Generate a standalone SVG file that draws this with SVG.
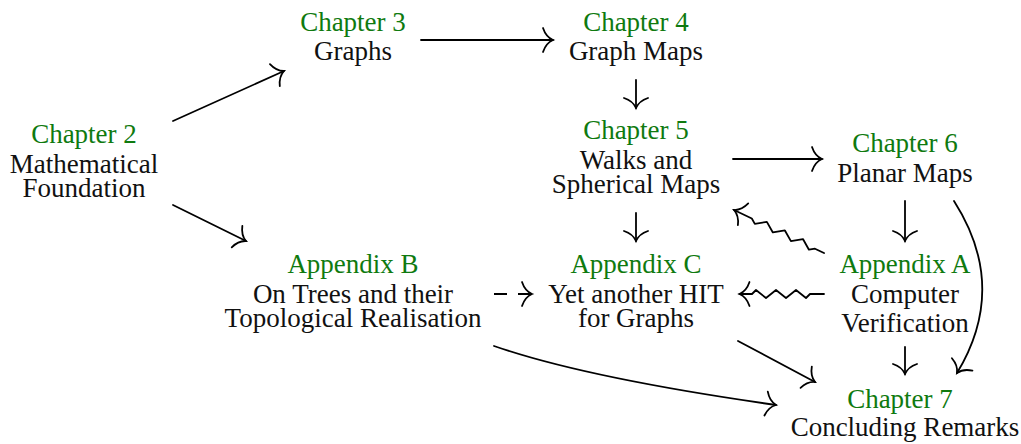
<svg xmlns="http://www.w3.org/2000/svg" width="1021" height="444" viewBox="0 0 1021 444">
<style>
text{font-size:27px;text-anchor:middle;fill:#111}
text.h{fill:#0f7a0f}
.c{fill:none;stroke:#000;stroke-width:1.8;stroke-linecap:round;stroke-linejoin:round}
.d{stroke-dasharray:13 11;stroke-linecap:butt}
</style>
<defs>
<marker id="to" viewBox="-15 -15 30 30" markerWidth="30" markerHeight="30" refX="0" refY="0" orient="auto" markerUnits="userSpaceOnUse" overflow="visible">
<path d="M-10,-12 Q-7,-3 0,0 Q-7,3 -10,12" fill="none" stroke="#000" stroke-width="1.8" stroke-linecap="round"/>
</marker>
</defs>
<rect width="1021" height="444" fill="#fff"/>
<g font-family="'Liberation Serif', 'DejaVu Serif', serif">
<g id="ch2"><text class="h" x="84" y="143">Chapter 2</text><text x="84" y="173">Mathematical</text><text x="84" y="197">Foundation</text></g>
<g id="ch3"><text class="h" x="353" y="31">Chapter 3</text><text x="353" y="60">Graphs</text></g>
<g id="ch4"><text class="h" x="636" y="31">Chapter 4</text><text x="636" y="60">Graph Maps</text></g>
<g id="ch5"><text class="h" x="636" y="139">Chapter 5</text><text x="636" y="169">Walks and</text><text x="636" y="193">Spherical Maps</text></g>
<g id="ch6"><text class="h" x="905" y="152">Chapter 6</text><text x="905" y="182">Planar Maps</text></g>
<g id="appB"><text class="h" x="353" y="273">Appendix B</text><text x="353" y="303">On Trees and their</text><text x="353" y="327">Topological Realisation</text></g>
<g id="appC"><text class="h" x="636" y="273">Appendix C</text><text x="636" y="303">Yet another HIT</text><text x="636" y="327">for Graphs</text></g>
<g id="appA"><text class="h" x="905" y="273">Appendix A</text><text x="905" y="303">Computer</text><text x="905" y="332">Verification</text></g>
<g id="ch7"><text class="h" x="900" y="408">Chapter 7</text><text x="905" y="436">Concluding Remarks</text></g>
</g>
<g id="connectors">
<path class="c" d="M173,121 L284,71" marker-end="url(#to)"/>
<path class="c" d="M173,205 L246,241" marker-end="url(#to)"/>
<path class="c" d="M421,40 L553,40" marker-end="url(#to)"/>
<path class="c" d="M636,80 L636,108" marker-end="url(#to)"/>
<path class="c" d="M733,159 L822,159" marker-end="url(#to)"/>
<path class="c" d="M636,213 L636,241" marker-end="url(#to)"/>
<path class="c" d="M905,201 L905,241" marker-end="url(#to)"/>
<path class="c d" d="M494,294 L532,294" marker-end="url(#to)"/>
<g transform="translate(824,253) rotate(205.54)"><path class="c" d="M0,0 L10,0 L15,-3.5 L25,3.5 L35,-3.5 L45,3.5 L55,-3.5 L65,3.5 L75,-3.5 L80,0 L99.7,0" marker-end="url(#to)"/></g>
<g transform="translate(824,294) rotate(180)"><path class="c" d="M0,0 L14,0 L18,-4 L28,4 L38,-4 L48,4 L58,-4 L68,4 L72,0 L84.5,0" marker-end="url(#to)"/></g>
<path class="c" d="M905,347 L905,374" marker-end="url(#to)"/>
<path class="c" d="M738,341 L815,382" marker-end="url(#to)"/>
<path class="c" d="M494,346 Q586,378 776,405" marker-end="url(#to)"/>
<path class="c" d="M954,201 Q1009,287 957,373" marker-end="url(#to)"/>
</g>
</svg>
